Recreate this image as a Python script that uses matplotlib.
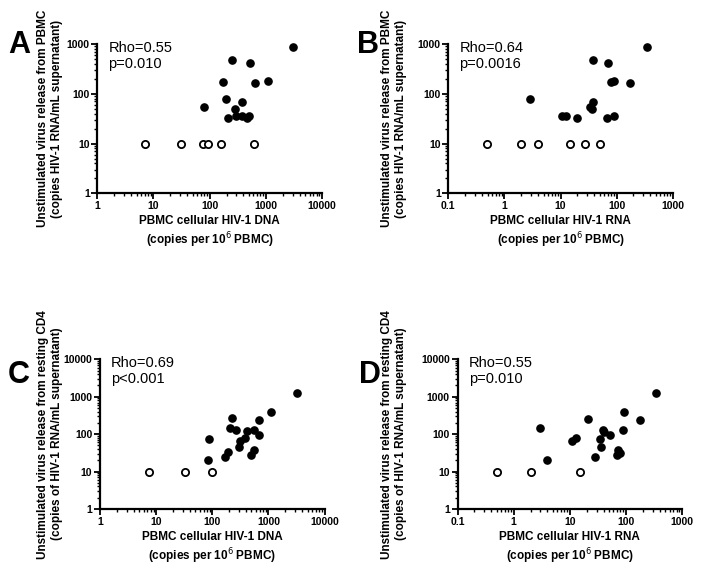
import matplotlib
matplotlib.use("Agg")
import matplotlib.pyplot as plt
from matplotlib.ticker import LogLocator, FuncFormatter, NullFormatter

plt.rcParams['font.family'] = ['Liberation Sans', 'DejaVu Sans']

# A: PBMC HIV-1 DNA vs unstimulated release from PBMC
a_x = [2990, 249, 527, 172, 648, 1072, 194, 384, 80, 285, 211, 293, 375, 460, 512]
a_y = [880, 475, 408, 172, 164, 177, 79, 69, 55, 49, 33, 35, 35, 32, 36]
a_x_open = [7.1, 31, 77, 92, 160, 604]
a_y_open = [10, 10, 10, 10, 10, 10]

# B: PBMC HIV-1 RNA vs unstimulated release from PBMC
b_x = [344, 38, 71, 78, 90, 171, 2.9, 38, 34, 36, 10.5, 12.5, 20, 67, 89]
b_y = [880, 475, 408, 172, 177, 164, 79, 69, 55, 49, 35, 35, 33, 32, 36]
b_x_open = [0.48, 1.95, 3.9, 14.8, 27, 51]
b_y_open = [10, 10, 10, 10, 10, 10]

# C: PBMC HIV-1 DNA vs unstimulated release from resting CD4
c_x = [3250, 1130, 690, 228, 204, 265, 417, 547, 671, 388, 307, 304, 562, 491, 86, 188, 171, 84]
c_y = [1290, 392, 244, 266, 146, 130, 122, 130, 95, 81, 67, 46, 38, 28, 74, 33, 24, 20]
c_x_open = [7.5, 33, 99]
c_y_open = [10, 10, 10]

# D: PBMC HIV-1 RNA vs unstimulated release from resting CD4
d_x = [345, 91, 175, 21, 3.0, 39, 41, 88, 53, 34, 12.9, 10.8, 36, 72, 79, 69, 28, 4.0]
d_y = [1290, 392, 240, 260, 144, 130, 115, 130, 95, 74, 81, 66, 46, 38, 32, 28, 24, 20]
d_x_open = [0.5, 2.0, 15]
d_y_open = [10, 10, 10]

dna_label = "PBMC cellular HIV-1 DNA\n(copies per 10$^6$ PBMC)"
rna_label = "PBMC cellular HIV-1 RNA\n(copies per 10$^6$ PBMC)"
pbmc_ylabel = "Unstimulated virus release from PBMC\n(copies HIV-1 RNA/mL supernatant)"
cd4_ylabel = "Unstimulated virus release from resting CD4\n(copies of HIV-1 RNA/mL supernatant)"

W, H = 704, 573
fig = plt.figure(figsize=(W / 100, H / 100), dpi=100)


def panel(rect, x, y, xo, yo, xlim, ylim, xlabel, ylabel, ylab_x, stat, letter, letter_xy):
    l, t, r, b = rect
    ax = fig.add_axes([l / W, 1 - b / H, (r - l) / W, (b - t) / H])
    ax.set_xscale('log')
    ax.set_yscale('log')
    ax.plot(x, y, 'o', color='black', ms=5.2, clip_on=False, zorder=3)
    ax.plot(xo, yo, 'o', mfc='white', mec='black', mew=1.3, ms=5.2,
            clip_on=False, zorder=3)
    ax.set_xlim(xlim)
    ax.set_ylim(ylim)
    for s in ['top', 'right']:
        ax.spines[s].set_visible(False)
    for s in ['left', 'bottom']:
        ax.spines[s].set_linewidth(1.6)
    fmt = FuncFormatter(lambda v, p: f"{v:g}")
    for axis in [ax.xaxis, ax.yaxis]:
        axis.set_major_locator(LogLocator(base=10, numticks=20))
        axis.set_minor_locator(LogLocator(base=10, subs=range(2, 10), numticks=20))
        axis.set_major_formatter(fmt)
        axis.set_minor_formatter(NullFormatter())
    ax.tick_params(which='major', direction='out', length=4, width=1.3,
                   labelsize=7.5, pad=1.5)
    ax.tick_params(which='minor', direction='out', length=2.5, width=1.0)
    for lab in ax.get_xticklabels() + ax.get_yticklabels():
        lab.set_fontweight('bold')
    ax.set_xlabel(xlabel, fontsize=8.5, fontweight='bold', labelpad=3,
                  linespacing=1.25)
    ax.set_ylabel(ylabel, fontsize=8.5, fontweight='bold', linespacing=1.25)
    # right edge of the rotated label block, in pixels
    ax.yaxis.set_label_coords((ylab_x - l) / (r - l), 0.5)
    ax.text(0.05, 1.02, stat, transform=ax.transAxes, fontsize=10.5,
            va='top', ha='left', linespacing=1.15)
    fig.text(letter_xy[0] / W, 1 - letter_xy[1] / H, letter, fontsize=22,
             fontweight='bold', va='top', ha='left')
    return ax


panel((97.3, 44, 322, 193.3), a_x, a_y, a_x_open, a_y_open, (1, 10000), (1, 1000),
      dna_label, pbmc_ylabel, 63, "Rho=0.55\np=0.010", "A", (8, 30))
panel((448.3, 44, 672.7, 193.3), b_x, b_y, b_x_open, b_y_open, (0.1, 1000), (1, 1000),
      rna_label, pbmc_ylabel, 407, "Rho=0.64\np=0.0016", "B", (357, 30))
panel((100, 359.3, 324.5, 509), c_x, c_y, c_x_open, c_y_open, (1, 10000), (1, 10000),
      dna_label, cd4_ylabel, 63, "Rho=0.69\np<0.001", "C", (8, 360))
panel((457.5, 359.3, 682, 509), d_x, d_y, d_x_open, d_y_open, (0.1, 1000), (1, 10000),
      rna_label, cd4_ylabel, 407, "Rho=0.55\np=0.010", "D", (359, 360))

fig.savefig("out.png", dpi=100)
